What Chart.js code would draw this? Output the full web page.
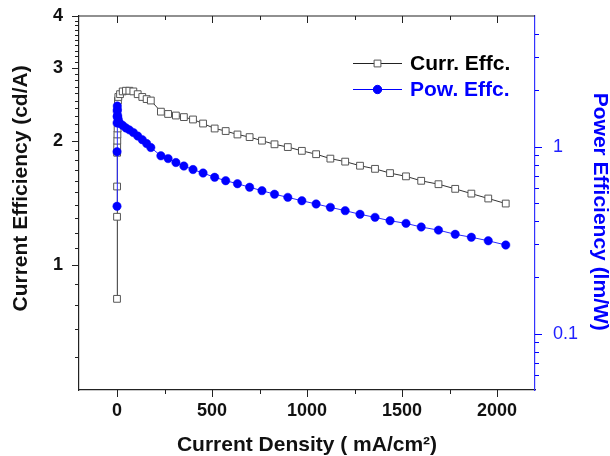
<!DOCTYPE html>
<html>
<head>
<meta charset="utf-8">
<script src="https://cdn.jsdelivr.net/npm/chart.js@4.4.0/dist/chart.umd.min.js"></script>
<style>
  body { margin: 0; background: #fff; }
  canvas { display: block; }
</style>
</head>
<body>
<canvas id="effChart" width="610" height="456"></canvas>
<script>
// current density, mA/cm2
const density = [0.05, 0.2, 0.4, 0.7, 1, 1.5, 2.2, 3.2, 5, 7, 16, 30, 47, 65, 86, 109, 133, 156, 178,
  231, 269, 310, 352, 400, 453, 514, 572, 634, 698, 763, 829, 899, 973, 1048, 1123, 1201, 1279,
  1358, 1437, 1521, 1601, 1692, 1780, 1865, 1954, 2046];
// current efficiency, cd/A
const currEff = [0.83, 1.31, 1.55, 1.87, 1.93, 2.0, 2.07, 2.14, 2.5, 2.55, 2.59, 2.63, 2.64, 2.64, 2.63, 2.59, 2.55, 2.52, 2.5,
  2.35, 2.32, 2.3, 2.28, 2.25, 2.2, 2.14, 2.11, 2.07, 2.04, 2.0, 1.96, 1.93, 1.89, 1.855, 1.81, 1.78, 1.74,
  1.71, 1.67, 1.64, 1.6, 1.57, 1.53, 1.49, 1.45, 1.41];
// power efficiency, lm/W
const powEff = [0.48, 0.94, 1.34, 1.45, 1.55, 1.65, 1.58, 1.47, 1.42, 1.38, 1.33, 1.3, 1.26, 1.23, 1.19, 1.14, 1.09, 1.04, 0.99,
  0.894, 0.864, 0.823, 0.788, 0.755, 0.723, 0.686, 0.658, 0.634, 0.607, 0.582, 0.557, 0.536, 0.514, 0.494, 0.474, 0.455, 0.435,
  0.419, 0.402, 0.389, 0.372, 0.358, 0.34, 0.328, 0.314, 0.298];

const xTicks = [0, 500, 1000, 1500, 2000];
const xMinor = [250, 750, 1250, 1750];
const ceTicks = [1, 2, 3, 4];
const ceMinor = [0.6, 0.7, 0.8, 0.9, 1.1, 1.2, 1.3, 1.4, 1.5, 1.6, 1.7, 1.8, 1.9,
  2.1, 2.2, 2.3, 2.4, 2.5, 2.6, 2.7, 2.8, 2.9, 3.1, 3.2, 3.3, 3.4, 3.5, 3.6, 3.7, 3.8, 3.9];
const peTicks = [0.1, 1];
const peMinor = [0.06, 0.07, 0.08, 0.09, 0.2, 0.3, 0.4, 0.5, 0.6, 0.7, 0.8, 0.9, 2, 3, 4];

const BLUE = '#0000ff';
const FONT = '"Liberation Sans", Arial, sans-serif';
Chart.defaults.font.family = FONT;

// ticks: majors long, minors short; top frame ticks point inwards
const frame = {
  id: 'frame',
  afterDraw(chart) {
    const {ctx, chartArea: a, scales} = chart;
    ctx.save();
    ctx.lineWidth = 1.2;
    ctx.strokeStyle = '#222';
    ctx.beginPath();
    ctx.moveTo(a.left, a.top);
    ctx.lineTo(a.right, a.top);
    ctx.stroke();

    function marks(scale, values, len, side, color) {
      ctx.strokeStyle = color;
      ctx.lineWidth = 1;
      ctx.beginPath();
      values.forEach(v => {
        const p = Math.round(scale.getPixelForValue(v)) + 0.5;
        if (side === 'bottom') { ctx.moveTo(p, a.bottom); ctx.lineTo(p, a.bottom + len); }
        if (side === 'top') { ctx.moveTo(p, a.top); ctx.lineTo(p, a.top + len); }
        if (side === 'left') { ctx.moveTo(a.left, p); ctx.lineTo(a.left - len, p); }
        if (side === 'right') { ctx.moveTo(a.right, p); ctx.lineTo(a.right + len, p); }
      });
      ctx.stroke();
    }
    marks(scales.x, xTicks, 7, 'bottom', '#222');
    marks(scales.x, xMinor, 4, 'bottom', '#222');
    marks(scales.x, xTicks, 7, 'top', '#222');
    marks(scales.x, xMinor, 4, 'top', '#222');
    marks(scales.y, ceTicks, 7, 'left', '#222');
    marks(scales.y, ceMinor, 4, 'left', '#222');
    marks(scales.y2, peTicks, 7, 'right', BLUE);
    marks(scales.y2, peMinor, 4, 'right', BLUE);
    ctx.restore();
  }
};

// legend in the upper right of the plot
const legendBox = {
  id: 'legendBox',
  afterDraw(chart) {
    const {ctx, chartArea: a} = chart;
    const lineColors = ['#222', BLUE];
    const textColors = ['#000', BLUE];
    ctx.save();
    chart.data.datasets.forEach((ds, i) => {
      const y = a.top + 47.5 + i * 26;
      const x0 = a.right - 182, x1 = a.right - 133, xm = (x0 + x1) / 2;
      ctx.strokeStyle = lineColors[i];
      ctx.lineWidth = 1.2;
      ctx.beginPath();
      ctx.moveTo(x0, y);
      ctx.lineTo(x1, y);
      ctx.stroke();
      ctx.fillStyle = ds.pointBackgroundColor;
      ctx.strokeStyle = ds.pointBorderColor;
      ctx.lineWidth = 1;
      ctx.beginPath();
      if (ds.pointStyle === 'rect') {
        const s = ds.pointRadius * Math.SQRT1_2;
        ctx.rect(xm - s, y - s, 2 * s, 2 * s);
      } else {
        ctx.arc(xm, y, ds.pointRadius, 0, Math.PI * 2);
      }
      ctx.fill();
      ctx.stroke();
      ctx.font = 'bold 21px ' + FONT;
      ctx.textBaseline = 'middle';
      ctx.fillStyle = textColors[i];
      ctx.fillText(ds.label, a.right - 125, y + 1);
    });
    ctx.restore();
  }
};

// fixed axis boxes so the plot sits where the original one does
function fixSize(size) {
  return axis => {
    if (axis.isHorizontal()) {
      axis.height = size;
    } else {
      axis.width = size;
    }
    axis.paddingTop = 0;
    axis.paddingBottom = 0;
    axis.paddingLeft = 0;
    axis.paddingRight = 0;
  };
}

const ctx = document.getElementById('effChart').getContext('2d');

const effChart = new Chart(ctx, {
  type: 'scatter',
  data: {
    datasets: [{
      label: 'Curr. Effc.',
      data: density.map((x, i) => ({x: x, y: currEff[i]})),
      yAxisID: 'y',
      showLine: true,
      borderColor: '#333',
      borderWidth: 1,
      pointStyle: 'rect',
      pointRadius: 4.8,
      pointBorderWidth: 1,
      pointBorderColor: '#555',
      pointBackgroundColor: '#fff',
      order: 2
    }, {
      label: 'Pow. Effc.',
      data: density.map((x, i) => ({x: x, y: powEff[i]})),
      yAxisID: 'y2',
      showLine: true,
      borderColor: '#2a2aff',
      borderWidth: 1,
      pointStyle: 'circle',
      pointRadius: 4.2,
      pointBorderWidth: 0.5,
      pointBorderColor: BLUE,
      pointBackgroundColor: BLUE,
      order: 1
    }]
  },
  options: {
    responsive: false,
    animation: false,
    layout: { padding: { top: 16, left: 0, right: 0, bottom: 0 }, autoPadding: false },
    plugins: {
      legend: { display: false },
      tooltip: { enabled: false }
    },
    scales: {
      x: {
        type: 'linear',
        min: -200,
        max: 2200,
        afterBuildTicks: axis => { axis.ticks = xTicks.map(v => ({value: v})); },
        afterFit: fixSize(66),
        grid: { display: false, drawTicks: false },
        border: { display: true, color: '#222', width: 1.2 },
        ticks: {
          padding: 10,
          maxRotation: 0,
          autoSkip: false,
          color: '#111',
          font: { size: 18, weight: 'bold' },
          callback: v => String(v)
        },
        title: {
          display: true,
          text: 'Current Density ( mA/cm\u00b2)',
          color: '#111',
          padding: { top: 0, bottom: 0 },
          font: { size: 21, weight: 'bold', lineHeight: 1 }
        }
      },
      y: {
        type: 'logarithmic',
        position: 'left',
        min: 0.5,
        max: 4,
        afterBuildTicks: axis => { axis.ticks = ceTicks.map(v => ({value: v})); },
        afterFit: fixSize(79),
        grid: { display: false, drawTicks: false },
        border: { display: true, color: '#222', width: 1.2 },
        ticks: {
          padding: 16,
          autoSkip: false,
          color: '#111',
          font: { size: 18, weight: 'bold' },
          callback: v => String(v)
        },
        title: {
          display: true,
          text: '     Current Efficiency (cd/A)',
          color: '#111',
          padding: { top: 10.5, bottom: 0 },
          font: { size: 21, weight: 'bold', lineHeight: 1 }
        }
      },
      y2: {
        type: 'logarithmic',
        position: 'right',
        min: 0.05,
        max: 5,
        afterBuildTicks: axis => { axis.ticks = peTicks.map(v => ({value: v})); },
        afterFit: fixSize(75),
        grid: { display: false, drawTicks: false },
        border: { display: true, color: '#3333ff', width: 1.2 },
        ticks: {
          padding: 18,
          autoSkip: false,
          color: '#2020ff',
          font: { size: 18 },
          callback: v => String(v)
        },
        title: {
          display: true,
          text: '   Power Efficiency (lm/W)',
          color: BLUE,
          padding: { top: 0, bottom: 0 },
          font: { size: 21, weight: 'bold', lineHeight: 1 }
        }
      }
    }
  },
  plugins: [frame, legendBox]
});
</script>
</body>
</html>
